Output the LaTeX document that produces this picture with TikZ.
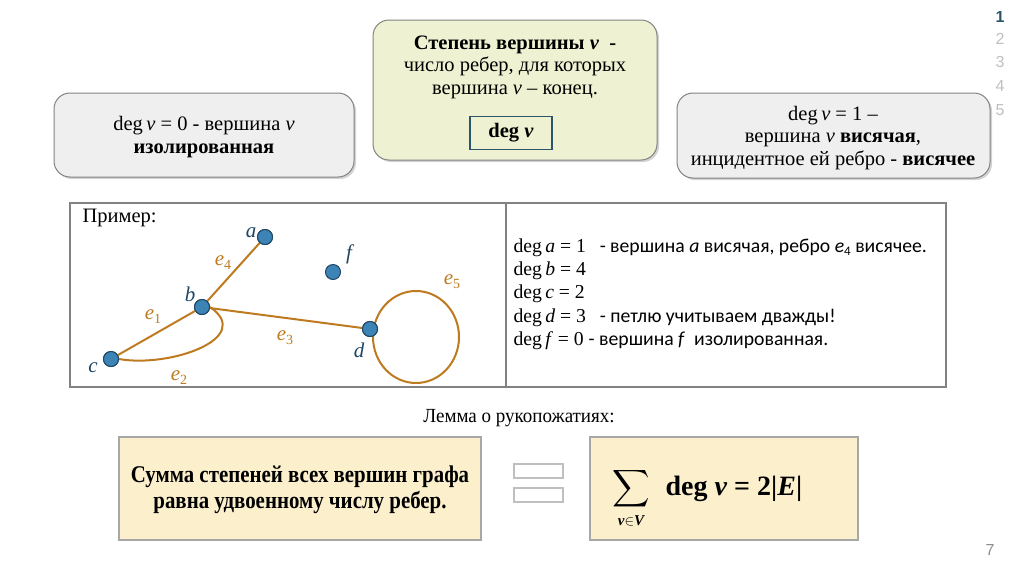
\documentclass[tikz,border=0pt]{standalone}
\usepackage{fontspec}
\setmainfont{Liberation Serif}
\newfontfamily\calib{Carlito}
\newfontfamily\numf{Liberation Sans}
\usetikzlibrary{shadows}
\definecolor{topfill}{RGB}{238,242,210}
\definecolor{grayfill}{RGB}{239,239,239}
\definecolor{lemfill}{RGB}{251,239,204}
\definecolor{nodefill}{RGB}{60,132,182}
\definecolor{nodedraw}{RGB}{30,70,100}
\definecolor{edgec}{RGB}{190,122,30}
\definecolor{framec}{RGB}{130,130,130}
\definecolor{tealc}{RGB}{45,85,105}
\newcommand{\dg}{deg\,}
\newcommand{\iv}[1]{\textit{#1}}
\newcommand{\ee}[1]{\textit{e}\raisebox{-4pt}{\fontsize{14}{14}\selectfont #1}}
\tikzset{
  x=1pt,y=-1pt,
  rbox/.style={draw=framec,line width=1pt,rounded corners=16pt,drop shadow={shadow xshift=2pt,shadow yshift=-2pt,opacity=0.35}},
  vert/.style={circle,fill=nodefill,draw=nodedraw,line width=1pt,minimum size=15pt,inner sep=0pt},
  edge/.style={draw=edgec,line width=2pt},
  elab/.style={text=edgec,font=\fontsize{21}{24}\selectfont},
  vlab/.style={text=nodedraw,font=\fontsize{21}{24}\selectfont\itshape},
  txt/.style={font=\fontsize{20.5}{22.5}\selectfont,align=center},
  ltxt/.style={font=\fontsize{19.7}{23.3}\selectfont,align=left,anchor=north west},
  lembox/.style={draw=framec!70,line width=1.2pt,fill=lemfill},
  pnum/.style={font=\numf\fontsize{16}{16}\selectfont,text=black!25}
}
\begin{document}
\begin{tikzpicture}
\useasboundingbox (0,0) rectangle (1024,574);
% page numbers
\node[pnum,text=tealc,font=\numf\bfseries\fontsize{16}{16}\selectfont] (p1) at (1000,17) {1};
\node[pnum] (p2) at (1000,39) {2};
\node[pnum] (p3) at (1000,62) {3};
\node[pnum] (p4) at (1000,86) {4};
\node[pnum] (p5) at (1000,110) {5};
\node[pnum,text=black!45] (p7) at (990,550) {7};
% top center box
\path[rbox,fill=topfill] (373,20) rectangle (657,160);
\node[txt] (t1) at (515,67) {\textbf{Степень вершины \iv{v}\enspace-}\\число ребер, для которых\\вершина \iv{v} – конец.};
\node[draw=tealc,line width=1.5pt,minimum width=82pt,minimum height=33pt,font=\fontsize{20.5}{22}\selectfont\bfseries] (degv) at (511,133) {deg \iv{v}};
% left box
\path[rbox,fill=grayfill] (54,93) rectangle (354,177);
\node[txt] (lt) at (204,137) {\dg\iv{v} = 0 - вершина \iv{v}\\\textbf{изолированная}};
% right box
\path[rbox,fill=grayfill] (677,93) rectangle (990,178);
\node[txt] (rt) at (833,138) {\dg\iv{v} = 1 –\\вершина \iv{v} \textbf{висячая},\\инцидентное ей ребро - \textbf{висячее}};
% example frames
\draw[framec,line width=2pt] (70,203) rectangle (506,387);
\draw[framec,line width=2pt] (506,203) rectangle (946,387);
\node[font=\fontsize{20.5}{22}\selectfont,anchor=west] (ex) at (79,218) {Пример:};
% graph
\draw[edge] (416,337) ellipse (43 and 46);
\node[vert] (a) at (265,237) {};
\node[vert] (f) at (333,272) {};
\node[vert] (b) at (202,307) {};
\node[vert] (c) at (111,359) {};
\node[vert] (d) at (370,329) {};
\draw[edge] (b) -- (a);
\draw[edge] (b) -- (c);
\draw[edge] (b) -- (d);
\draw[edge] (c.east) .. controls (170,368) and (255,338) .. (b.east);
\node[vert] at (b) {};
\node[vert] at (c) {};
\node[vert] at (d) {};
\node[vert] at (a) {};
\node[vlab] (la) at (251,233) {a};
\node[vlab] (lf) at (349,254) {f};
\node[vlab] (lb) at (190,294) {b};
\node[vlab] (lc) at (93,368) {c};
\node[vlab] (ld) at (359,350) {d};
\node[elab] (e4) at (223,263) {\ee{4}};
\node[elab] (e1) at (153,317) {\ee{1}};
\node[elab] (e2) at (179,378) {\ee{2}};
\node[elab] (e3) at (285,338) {\ee{3}};
\node[elab] (e5) at (452,282) {\ee{5}};
% degrees list
\node[ltxt] (list) at (510,235) {%
\dg\iv{a} = 1 {\calib\ \ - вершина \iv{a} висячая, ребро \iv{e}\raisebox{-3pt}{\fontsize{13}{13}\selectfont 4} висячее.}\\
\dg\iv{b} = 4\\
\dg\iv{c} = 2\\
\dg\iv{d} = 3 {\calib\ \ -\ петлю учитываем дважды!}\\
\dg\iv{f} = 0 {\calib - вершина \iv{f} \ изолированная.}};
% lemma
\node[font=\fontsize{20}{22}\selectfont] (lem) at (519,418) {\scalebox{0.95}[1]{Лемма о рукопожатиях:}};
\draw[lembox] (119,437) rectangle (481,540);
\node[txt,font=\fontsize{24}{26}\selectfont\bfseries] (lemt) at (300,490) {\scalebox{0.87}[1]{\shortstack{Сумма степеней всех вершин графа\\[1pt]равна удвоенному числу ребер.}}};
\draw[lembox,line width=1.5pt,fill=white,draw=black!25] (514,464) rectangle (563,478);
\draw[lembox,line width=1.5pt,fill=white,draw=black!25] (514,488) rectangle (563,502);
\draw[lembox] (590,437) rectangle (858,540);
\node (sig) at (631,489) {\scalebox{2.6}{$\displaystyle\sum$}};
\node[font=\fontsize{15}{15}\selectfont\bfseries\itshape] (sub) at (631,521) {v$\in$V};
\node[font=\fontsize{28}{30}\selectfont\bfseries,anchor=west] (form) at (662,489) {deg \iv{v} = 2\textbar\iv{E}\textbar};
\end{tikzpicture}
\end{document}
